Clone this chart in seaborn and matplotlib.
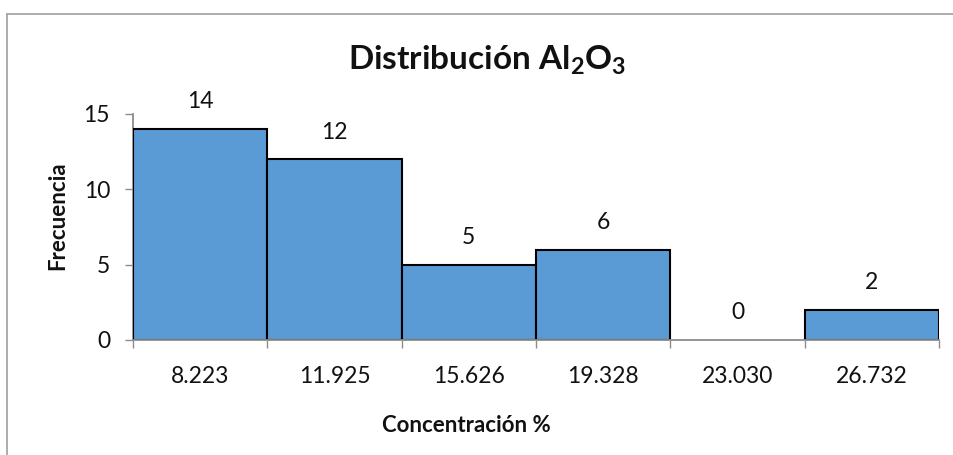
import matplotlib
matplotlib.use("Agg")
import matplotlib.pyplot as plt
from matplotlib.ticker import FixedLocator
import seaborn as sns
import pandas as pd

# Histogram classes (class marks) and frequencies
class_marks = ["8.223", "11.925", "15.626", "19.328", "23.030", "26.732"]
frequencies = [14, 12, 5, 6, 0, 2]
y_ticks = [0, 5, 10, 15]

sns.set_theme(style="white")
plt.rcParams["font.family"] = ["Lato", "DejaVu Sans"]
plt.rcParams["mathtext.fontset"] = "custom"
plt.rcParams["mathtext.rm"] = "Lato:bold"
plt.rcParams["mathtext.it"] = "Lato:bold"
plt.rcParams["mathtext.bf"] = "Lato:bold"
plt.rcParams["mathtext.default"] = "rm"

df = pd.DataFrame({"clase": class_marks, "frecuencia": frequencies})

W, H = 954, 455
fig = plt.figure(figsize=(W / 100, H / 100), dpi=100)
ax = fig.add_axes([133 / W, 1 - 340 / H, (939 - 133) / W, (340 - 114) / H])

sns.barplot(data=df, x="clase", y="frecuencia", color="#5B9BD5", saturation=1,
            width=1.0, edgecolor="black", linewidth=1.5, ax=ax)

# empty classes leave no outline on the axis
for patch, f in zip(ax.patches, frequencies):
    if f == 0:
        patch.set_linewidth(0)

n = len(class_marks)
ax.set_xlim(-0.5, n - 0.5)
ax.set_ylim(0, 15)
ax.set_yticks(y_ticks)

text_color = "#111111"
tick_size = 16.5

# value labels above each bar
for i, f in enumerate(frequencies):
    ax.annotate(str(f), xy=(i, f), xytext=(0, 19.5), textcoords="offset points",
                ha="center", va="center", fontsize=tick_size, color=text_color)

axis_gray = "#8c8c8c"
for side in ["top", "right"]:
    ax.spines[side].set_visible(False)
for side in ["left", "bottom"]:
    ax.spines[side].set_color(axis_gray)
    ax.spines[side].set_linewidth(1.3)
ax.spines["left"].set_zorder(0.5)

# category tick marks sit on the class boundaries
ax.xaxis.set_minor_locator(FixedLocator([i - 0.5 for i in range(n + 1)]))
ax.tick_params(axis="x", which="minor", direction="out", length=5.5,
               width=1.0, color=axis_gray, bottom=True)
ax.tick_params(axis="x", which="major", length=0, pad=19, labelsize=tick_size,
               labelcolor=text_color)
ax.tick_params(axis="y", which="major", direction="out", length=5.5, width=1.0,
               color=axis_gray, left=True, pad=11, labelsize=tick_size,
               labelcolor=text_color)

ax.set_xlabel("Concentración %", fontsize=16, fontweight="bold", color=text_color)
ax.xaxis.label.set_va("center")
ax.xaxis.set_label_coords((466 - 133) / (939 - 133), (340 - 425) / (340 - 114))
ax.set_ylabel("Frecuencia", fontsize=16, fontweight="bold", color=text_color)
ax.yaxis.label.set_va("center")
ax.yaxis.set_label_coords((58 - 133) / (939 - 133), (340 - 216) / (340 - 114))

fig.text(487 / W, 1 - 70 / H, "Distribución Al$_2$O$_3$", ha="center",
         va="baseline", fontsize=24, fontweight="bold", color=text_color)

# chart frame
frame = "#a6a6a6"
fig.add_artist(plt.Line2D([7 / W, 7 / W], [0, 1 - 14 / H], transform=fig.transFigure,
                          color=frame, linewidth=1.3))
fig.add_artist(plt.Line2D([7 / W, 1], [1 - 14 / H, 1 - 14 / H], transform=fig.transFigure,
                          color=frame, linewidth=1.3))

fig.savefig("out.png", dpi=100)
